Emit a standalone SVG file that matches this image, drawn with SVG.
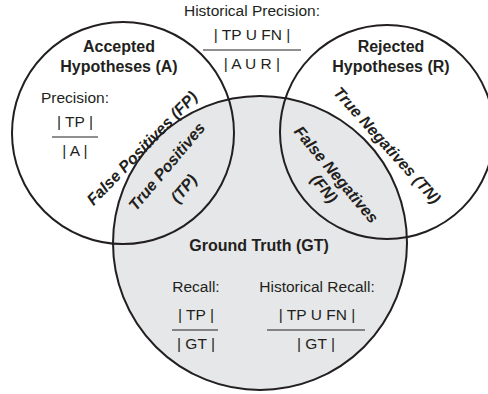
<svg xmlns="http://www.w3.org/2000/svg" width="488" height="394" viewBox="0 0 488 394">
  <style>
    .set { fill: none; stroke: #231f20; stroke-width: 2; }
    .gt-fill { fill: #e6e7e8; stroke: none; }
    .t { font-family: "Liberation Sans", Arial, Helvetica, sans-serif; font-size: 15.5px; fill: #231f20; text-anchor: middle; }
    .b { font-weight: bold; font-size: 16px; }
    .bi { font-weight: bold; font-style: italic; font-size: 16px; }
    .bar { stroke: #231f20; stroke-width: 1.2; }
  </style>
  <rect width="488" height="394" fill="#ffffff"/>

  <!-- Ground truth set (shaded) -->
  <g id="ground-truth">
    <circle class="gt-fill" cx="260" cy="243" r="147"/>
    <circle class="set" cx="260" cy="243" r="147"/>
    <text class="t b" x="259" y="251">Ground Truth (GT)</text>
  </g>

  <!-- Accepted hypotheses set -->
  <g id="accepted">
    <circle class="set" cx="123" cy="133" r="111"/>
    <text class="t b" x="119" y="52">Accepted</text>
    <text class="t b" x="119" y="72">Hypotheses (A)</text>
  </g>

  <!-- Rejected hypotheses set -->
  <g id="rejected">
    <circle class="set" cx="387" cy="132" r="107"/>
    <text class="t b" x="391" y="52">Rejected</text>
    <text class="t b" x="391" y="72">Hypotheses (R)</text>
  </g>

  <!-- Region labels -->
  <g id="false-positives">
    <text class="t bi" transform="translate(146,152) rotate(-46)">False Positives (FP)</text>
  </g>
  <g id="true-positives">
    <text class="t bi" transform="translate(171,170) rotate(-50)">True Positives</text>
    <text class="t bi" transform="translate(188,192) rotate(-50)">(TP)</text>
  </g>
  <g id="false-negatives">
    <text class="t bi" transform="translate(332,178) rotate(50)">False Negatives</text>
    <text class="t bi" transform="translate(320,192) rotate(50)">(FN)</text>
  </g>
  <g id="true-negatives">
    <text class="t bi" transform="translate(383,149) rotate(48)">True Negatives (TN)</text>
  </g>

  <!-- Metric formulas -->
  <g id="historical-precision">
    <text class="t" x="252" y="16">Historical Precision:</text>
    <text class="t" x="252" y="40">| TP U FN |</text>
    <line class="bar" x1="203" y1="50" x2="301" y2="50"/>
    <text class="t" x="252" y="69">| A U R |</text>
  </g>
  <g id="precision">
    <text class="t" x="75" y="103">Precision:</text>
    <text class="t" x="75" y="127">| TP |</text>
    <line class="bar" x1="52" y1="137" x2="98" y2="137"/>
    <text class="t" x="75" y="156">| A |</text>
  </g>
  <g id="recall">
    <text class="t" x="196" y="292">Recall:</text>
    <text class="t" x="196" y="320">| TP |</text>
    <line class="bar" x1="172" y1="330" x2="218" y2="330"/>
    <text class="t" x="196" y="349">| GT |</text>
  </g>
  <g id="historical-recall">
    <text class="t" x="317" y="292">Historical Recall:</text>
    <text class="t" x="317" y="320">| TP U FN |</text>
    <line class="bar" x1="267" y1="330" x2="365" y2="330"/>
    <text class="t" x="316" y="349">| GT |</text>
  </g>
</svg>
